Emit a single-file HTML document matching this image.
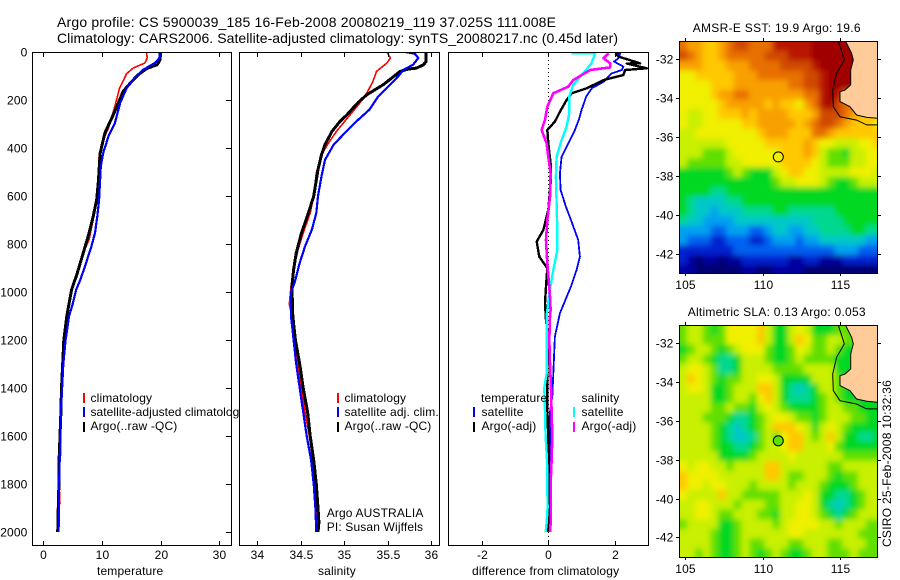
<!DOCTYPE html>
<html>
<head>
<meta charset="utf-8">
<title>Argo profile</title>
<style>
html,body{margin:0;padding:0;background:#fff;}
svg{display:block;}
text{font-family:"Liberation Sans",sans-serif;font-size:12px;fill:#000;letter-spacing:.15px;}
.t14{font-size:14px;letter-spacing:0;}
.frame{fill:none;stroke:#000;stroke-width:1;shape-rendering:crispEdges;}
.bar{stroke-width:2;shape-rendering:crispEdges;}
.line{fill:none;stroke-linejoin:round;shape-rendering:crispEdges;}
</style>
</head>
<body>
<svg id="chart" xmlns="http://www.w3.org/2000/svg" width="900" height="580" viewBox="0 0 900 580">
<defs>
<clipPath id="clip-p1"><rect x="32" y="52" width="200" height="494"/></clipPath>
<clipPath id="clip-p2"><rect x="240" y="52" width="200" height="494"/></clipPath>
<clipPath id="clip-p3"><rect x="448" y="52" width="201" height="494"/></clipPath>
<clipPath id="clip-m1"><rect x="679" y="41" width="199" height="232"/></clipPath>
<clipPath id="clip-m2"><rect x="679" y="325" width="199" height="232"/></clipPath>
<filter id="smooth" x="-5%" y="-5%" width="110%" height="110%"><feGaussianBlur stdDeviation="3"/></filter>
</defs>
<rect x="0" y="0" width="900" height="580" fill="#fff"/>
<text class="t14" x="57" y="27" textLength="499">Argo profile: CS 5900039_185 16-Feb-2008 20080219_119 37.025S 111.008E</text>
<text class="t14" x="57" y="43" textLength="561">Climatology: CARS2006. Satellite-adjusted climatology: synTS_20080217.nc (0.45d later)</text>

<g id="p1"></g>
<g>
<line class="bar" x1="84" x2="84" y1="393" y2="403" stroke="#f00"/>
<text x="90.5" y="402">climatology</text>
<line class="bar" x1="84" x2="84" y1="407" y2="417" stroke="#00f"/>
<text x="90.5" y="416" textLength="155">satellite-adjusted climatology</text>
<line class="bar" x1="84" x2="84" y1="422" y2="432" stroke="#000"/>
<text x="90.5" y="430">Argo(..raw -QC)</text>
</g>
<rect x="240" y="52" width="200" height="494" fill="#fff"/>
<g id="p2"></g>
<g>
<line class="bar" x1="338" x2="338" y1="393" y2="403" stroke="#f00"/>
<text x="344.5" y="402">climatology</text>
<line class="bar" x1="338" x2="338" y1="407" y2="417" stroke="#00f"/>
<text x="344.5" y="416">satellite adj. clim.</text>
<line class="bar" x1="338" x2="338" y1="422" y2="432" stroke="#000"/>
<text x="344.5" y="430">Argo(..raw -QC)</text>
<text x="326.7" y="517">Argo AUSTRALIA</text>
<text x="326.7" y="531">PI: Susan Wijffels</text>
</g>
<g id="p3"></g>
<g>
<text x="481" y="402">temperature</text>
<line class="bar" x1="474" x2="474" y1="407" y2="417" stroke="#00f"/>
<text x="481.5" y="416">satellite</text>
<line class="bar" x1="474" x2="474" y1="422" y2="432" stroke="#000"/>
<text x="481.5" y="430">Argo(-adj)</text>
<text x="581.5" y="402">salinity</text>
<line class="bar" x1="574" x2="574" y1="407" y2="417" stroke="#0ff"/>
<text x="581.5" y="416">satellite</text>
<line class="bar" x1="574" x2="574" y1="422" y2="432" stroke="#f0f"/>
<text x="581.5" y="430">Argo(-adj)</text>
</g>
<text x="97" y="575">temperature</text>
<text x="318" y="575">salinity</text>
<text x="472" y="575">difference from climatology</text>

<text x="692.7" y="32" textLength="168">AMSR-E SST: 19.9 Argo: 19.6</text>
<g id="m1"></g>
<text x="687.7" y="316" textLength="178">Altimetric SLA: 0.13 Argo: 0.053</text>
<g id="m2"></g>
<text transform="translate(891,547) rotate(-90)" textLength="167">CSIRO 25-Feb-2008 10:32:36</text>
</svg>

<script>
// ---- profile data ----
const depthTicks = [0,200,400,600,800,1000,1200,1400,1600,1800,2000];
const tempTicks = [0,10,20,30];
const salTicks = [34,34.5,35,35.5,36];
const salTickLabels = ['34','34.5','35','35.5','36'];
const diffTicks = [-2,0,2];
const lonTicks = [105,110,115];
const latTicks = [-32,-34,-36,-38,-40,-42];

const tempClimDepth = [0,25,46,67,90,150,226,317,365,435,532,615,698,782,838,921,1000,1100,1200,1300,1400,1600,1680,1700,1800,1880,1900,2000];
const tempClimValue = [17.6,17.7,17.3,15.3,14.2,13,12.2,11.1,10.2,9.5,9.3,9,8.5,7.8,6.8,5.8,4.8,4,3.6,3.3,3.1,2.9,3,2.55,2.7,2.85,2.4,2.4];
const tempSatDepth = [0,25,46,74,115,150,212,296,351,421,476,615,685,754,810,893,949,990,1050,1100,1200,1300,1400,1500,1600,1700,1800,1900,2000];
const tempSatValue = [19.9,19.8,19,17,15.3,14.2,13.1,12.2,11.1,10.2,9.8,9.5,9.2,8.8,8.2,7.1,6.3,5.6,5,4.4,3.8,3.4,3.2,3,2.9,2.8,2.7,2.65,2.6];
const tempArgoDepth = [0,32,53,69,94,122,164,212,268,337,421,532,615,685,754,838,921,992,1100,1200,1300,1400,1500,1600,1700,1800,1900,2000];
const tempArgoValue = [19.9,19.9,19.4,17.6,16.2,15.1,13.6,12.8,11.8,10.5,9.7,9.4,9.1,8.5,7.8,6.8,5.8,4.8,4,3.5,3.3,3.1,3,2.85,2.7,2.65,2.55,2.45];

const salClimDepth = [0,25,46,81,122,171,212,261,331,379,428,504,601,671,754,824,907,976,1050,1100,1200,1300,1400,1500,1600,1700,1800,1900,2000];
const salClimValue = [35.49,35.53,35.49,35.37,35.33,35.26,35.18,35.07,34.91,34.82,34.74,34.68,34.65,34.61,34.53,34.47,34.42,34.39,34.37,34.4,34.43,34.47,34.51,34.55,34.6,34.64,34.67,34.68,34.7];
const salSatDepth = [0,7,25,53,74,101,150,185,240,289,344,386,449,518,601,671,740,810,879,963,1000,1100,1200,1300,1400,1500,1600,1700,1800,1900,2000];
const salSatValue = [35.7,35.81,35.85,35.79,35.68,35.62,35.49,35.39,35.29,35.14,34.99,34.88,34.78,34.74,34.7,34.68,34.63,34.55,34.49,34.43,34.39,34.39,34.42,34.45,34.49,34.53,34.57,34.62,34.65,34.67,34.68];
const salArgoDepth = [0,39,53,67,71,81,104,136,178,210,262,290,331,386,428,490,601,671,754,838,907,976,1100,1200,1300,1400,1500,1600,1700,1800,1900,1960,2000];
const salArgoValue = [35.94,35.94,35.91,35.83,35.74,35.64,35.56,35.45,35.26,35.16,35.03,34.95,34.86,34.78,34.74,34.7,34.65,34.59,34.51,34.45,34.42,34.4,34.41,34.44,34.49,34.53,34.58,34.61,34.65,34.68,34.7,34.71,34.7];

const diffTempSatDepth = [6,6,26,40,61,75,89,124,151,186,242,278,325,381,436,506,575,644,707,783,853,908,978,1054,1089,1186,1340,1436,1500,1700,2000];
const diffTempSatValue = [2.01,2.16,2.11,1.98,2.26,2.21,1.91,1.66,1.31,1.14,1.0,0.93,0.8,0.6,0.4,0.35,0.37,0.53,0.7,0.9,0.95,0.85,0.68,0.45,0.35,0.2,0.15,0.12,0.05,0.05,0.06];
const diffTempArgoDepth = [6,19,47,48,68,75,96,117,151,172,200,249,290,325,381,464,547,658,742,790,853,901,978,1047,1117,1200,1340,1478,1617,1728,1964,2000];
const diffTempArgoValue = [2.01,2.11,2.76,2.36,2.96,2.31,2.26,1.66,1.16,0.7,0.55,0.35,0.2,-0.03,0,0.07,0.07,0,-0.15,-0.35,-0.27,-0.03,-0.07,-0.1,-0.07,0,-0.03,-0.03,0,0.02,0,0];
const diffSalSatDepth = [6,6,47,89,137,186,256,311,367,436,519,631,742,825,908,1006,1100,1200,1340,1400,1500,1600,1700,1800,1900,1964,2000];
const diffSalSatValue = [0.7,1.41,1.3,1.05,0.75,0.63,0.63,0.55,0.4,0.25,0.23,0.25,0.27,0.27,0.15,0.03,-0.05,-0.05,-0.05,-0.12,-0.1,-0.08,-0.04,-0.03,-0.02,-0.05,-0.08];
const diffSalArgoDepth = [6,26,47,64,75,117,144,172,228,283,325,381,436,506,603,700,783,881,1019,1075,1100,1200,1300,1400,1500,1600,1700,1800,1964,2000];
const diffSalArgoValue = [1.81,1.66,1.86,1.86,1.26,0.75,0.6,0.15,-0.03,-0.1,-0.2,-0.05,0,0.07,0.05,-0.03,-0.07,-0.03,0.05,0.07,0.05,0.03,0.05,0.08,0.1,0.12,0.1,0.07,0.07,0.05];

// ---- map data (colour level per 0.5 degree cell, north to south) ----
const sstLevels = [
[13,12,12,11,11,12,13,14,14,13,13,13,15,15,15,15,15,16,16,16,16,16,16,16,16,16],
[14,13,12,11,11,12,13,13,13,13,13,14,14,14,15,15,15,16,16,16,16,16,16,16,16,16],
[12,12,12,11,11,11,12,12,12,13,13,13,13,14,14,14,14,15,16,16,16,16,16,16,16,16],
[10,10,11,11,11,11,11,12,12,12,13,13,13,13,13,13,14,14,15,16,16,16,16,16,16,16],
[10,10,10,10,11,11,11,12,12,12,12,12,12,12,13,13,14,14,15,16,16,16,16,16,16,16],
[10,10,10,10,11,12,12,13,13,12,12,12,12,12,12,12,13,13,15,16,15,13,13,13,13,13],
[10,10,10,10,10,11,12,12,12,12,12,11,12,11,11,10,12,13,15,16,14,13,13,13,13,13],
[10,9,9,10,10,11,11,11,12,11,12,12,12,12,11,11,11,12,14,14,14,13,12,11,11,11],
[10,9,9,10,10,10,10,10,11,11,12,12,12,12,12,11,12,13,14,14,13,12,11,11,11,10],
[9,9,10,10,10,10,10,10,10,10,11,12,12,12,11,11,11,13,13,12,11,11,11,11,11,11],
[9,9,9,9,9,9,10,10,10,10,10,11,11,11,11,11,12,11,10,10,9,9,9,10,10,11],
[9,9,9,8,8,8,9,10,10,10,10,10,10,11,11,11,12,11,9,8,8,7,9,9,10,10],
[9,8,8,8,8,8,9,9,10,10,10,10,10,11,11,11,11,10,9,8,8,8,9,9,10,10],
[7,7,7,7,7,7,8,9,8,7,7,7,9,10,11,11,10,10,9,9,9,9,10,10,10,9],
[7,7,7,7,7,7,7,7,7,7,7,7,8,9,9,10,10,10,9,8,7,7,8,9,9,9],
[7,7,7,7,6,6,7,7,7,7,7,7,7,7,7,7,7,7,7,7,7,7,7,7,7,7],
[7,6,5,5,5,5,6,6,7,7,7,7,7,7,7,7,7,7,7,7,7,7,7,7,7,7],
[7,6,5,5,4,5,5,5,6,6,6,6,7,7,6,6,6,6,6,6,7,7,7,7,7,7],
[6,5,5,4,4,4,4,5,5,5,5,5,5,5,5,5,5,6,6,6,6,7,7,7,7,7],
[4,4,4,4,3,3,4,4,4,3,3,4,5,5,4,4,5,5,6,6,6,6,7,7,6,6],
[4,3,3,3,2,2,3,3,3,2,2,3,4,4,4,3,4,4,5,5,5,5,5,5,4,4],
[2,2,2,2,2,2,2,3,3,3,3,3,3,3,3,3,3,3,3,3,4,4,4,3,3,3],
[2,1,0,1,1,0,1,1,2,2,2,2,2,2,1,1,2,2,1,1,1,2,2,2,2,2],
[1,1,0,0,0,0,0,0,1,1,0,0,1,1,1,1,0,0,0,0,0,0,0,0,0,0]
];
const slaLevels = [
[8,9,9,8,7,8,10,10,10,10,11,9,7,7,9,10,9,7,7,7,8,8,8,8,8,8],
[8,9,9,8,8,8,10,10,10,10,11,9,7,7,9,11,10,8,8,9,9,8,8,8,8,8],
[7,8,9,9,8,7,8,9,10,10,10,8,7,7,8,10,9,8,8,9,8,7,7,7,7,7],
[8,9,9,8,7,6,6,7,9,9,9,8,7,7,8,9,8,8,8,8,7,7,7,7,7,7],
[9,10,10,9,8,6,6,7,9,9,9,9,8,8,8,8,9,9,9,9,7,7,7,7,7,7],
[9,11,10,9,8,7,8,8,9,9,10,10,9,7,7,7,7,9,9,9,8,7,7,7,7,7],
[9,10,10,9,7,7,8,9,9,9,11,11,9,7,6,5,6,7,9,9,8,7,7,7,7,7],
[9,9,9,9,7,7,8,9,9,8,10,11,9,7,6,6,6,7,8,9,8,7,7,7,7,7],
[9,9,9,9,8,8,9,8,8,7,9,10,9,8,7,7,7,7,8,9,9,8,8,7,7,7],
[9,9,9,8,8,8,7,6,6,7,8,9,10,10,9,8,8,7,8,9,9,9,8,8,7,7],
[9,9,9,9,8,7,6,5,6,7,8,9,11,11,11,10,9,7,9,10,9,8,7,7,7,7],
[9,9,9,9,8,7,6,5,5,6,8,9,8,10,11,11,9,8,9,11,9,7,7,6,6,7],
[9,9,9,9,8,7,7,6,6,7,8,9,9,10,11,11,9,9,9,10,8,7,7,7,7,7],
[9,9,9,9,9,7,7,7,7,8,9,9,9,9,10,9,9,9,9,9,9,8,8,8,8,8],
[10,9,10,10,9,9,8,9,9,9,9,11,11,9,9,9,9,9,9,8,8,9,9,9,9,9],
[11,10,10,10,10,9,9,9,9,9,9,11,11,9,8,8,9,9,9,8,7,8,8,9,9,9],
[11,10,10,9,10,10,9,9,9,8,9,9,9,9,8,9,9,9,8,7,7,7,8,9,9,9],
[10,9,9,9,9,11,9,9,8,8,8,8,8,9,9,9,10,9,7,7,6,6,7,8,9,9],
[9,9,10,10,9,9,9,8,9,9,9,8,8,9,9,10,10,9,7,6,5,6,7,8,9,9],
[9,9,10,10,9,8,8,9,9,9,8,8,7,9,9,10,10,9,8,7,6,7,8,9,9,9],
[8,9,9,9,9,7,7,8,9,9,9,9,8,9,10,10,10,10,9,9,8,9,9,9,8,8],
[9,9,9,9,8,7,7,8,9,9,9,9,9,9,10,10,9,9,9,9,9,9,9,8,8,8],
[9,9,9,9,8,7,7,8,9,8,8,9,9,9,8,8,9,9,9,8,8,9,9,9,8,8],
[9,9,8,9,8,7,7,8,9,8,7,8,9,8,7,7,8,9,9,8,8,8,9,8,8,8]
];
const palette = ['#000070','#0000a0','#0020d0','#0060f0','#00a0f0','#00c8c8','#00d890','#00d820','#60e000','#c8f000','#f0f000','#ffc800','#f8a000','#e87000','#d04800','#b81800','#a00000'];
const coastLon = [115.34,115.73,115.84,115.67,115.67,115.30,114.98,114.98,115.62,116.05,116.70,117.38];
const coastLat = [-31.07,-31.69,-32.03,-32.55,-33.32,-33.58,-33.67,-34.18,-34.44,-34.87,-34.99,-35.04];
const isobathLon = [114.87,115.09,115.26,114.76,114.51,114.55,114.98,116.05,116.70,117.38];
const isobathLat = [-31.07,-31.6,-32.03,-32.72,-33.58,-34.44,-34.96,-35.13,-35.38,-35.38];
const floatLon = 111.008;
const floatLat = -37.025;
const sstFloatLevel = 9.5;
const slaFloatLevel = 8;

// ---- axis functions ----
const NS = 'http://www.w3.org/2000/svg';
const yDepth = d => 52 + 0.24 * d;
const xTemp = v => 43.3 + 5.87 * v;
const xSal = v => 257 + 87.2 * (v - 34);
const xDiff = v => 548.3 + 33.25 * v;
const GRID_LON0 = 104.63, GRID_LAT0 = -31.07, GRID_STEP = 0.5;
const xLon = lon => 685 + 15.53 * (lon - 105);
const yLat1 = lat => 59.3 + 19.42 * (-32 - lat);
const yLat2 = lat => 343.3 + 19.4 * (-32 - lat);

function make(tag, parent, attrs, txt) {
  const el = document.createElementNS(NS, tag);
  for (const k in attrs) el.setAttribute(k, attrs[k]);
  if (txt !== undefined) el.textContent = txt;
  parent.appendChild(el);
  return el;
}
function crisp(v) { return Math.round(v) + 0.5; }

function drawLine(parent, clip, xf, vals, depths, color, width, name) {
  const pts = vals.map((v, i) => xf(v).toFixed(1) + ',' + yDepth(depths[i]).toFixed(1)).join(' ');
  const el = make('polyline', parent, {'class':'line', points:pts, stroke:color, 'stroke-width':width, 'clip-path':'url(#' + clip + ')'});
  
  
}

function drawTick(parent, x1, y1, x2, y2) {
  const el = make('line', parent, {x1:x1, y1:y1, x2:x2, y2:y2, stroke:'#000', 'stroke-width':1, 'shape-rendering':'crispEdges'});
  
  
}

function drawLabel(parent, x, y, anchor, s) {
  const el = make('text', parent, {x:x, y:y, 'text-anchor':anchor}, s);
  
  
}

function drawFrame(parent, x, y, w, h) {
  const el = make('rect', parent, {'class':'frame', x:x, y:y, width:w, height:h});
  
  
}

// ---- panel 1: temperature ----
const p1 = document.getElementById('p1');
drawLine(p1, 'clip-p1', xTemp, tempClimValue, tempClimDepth, '#f00', 1.6, 'temperature-climatology-line');
drawLine(p1, 'clip-p1', xTemp, tempArgoValue, tempArgoDepth, '#000', 3, 'temperature-argo-line');
drawLine(p1, 'clip-p1', xTemp, tempSatValue, tempSatDepth, '#00f', 2.2, 'temperature-satellite-line');
depthTicks.forEach(d => {
  const y = crisp(yDepth(d));
  drawLabel(p1, 27.5, y + 4, 'end', String(d));
  if (d > 0) drawTick(p1, 226, y, 231, y);
});
tempTicks.forEach(t => {
  const x = crisp(xTemp(t));
  drawTick(p1, x, 52, x, 57);
  drawTick(p1, x, 541, x, 546);
  drawLabel(p1, x, 559, 'middle', String(t));
});
drawFrame(p1, 32.5, 52.5, 199, 493);

// ---- panel 2: salinity ----
const p2 = document.getElementById('p2');
drawLine(p2, 'clip-p2', xSal, salClimValue, salClimDepth, '#f00', 1.6, 'salinity-climatology-line');
drawLine(p2, 'clip-p2', xSal, salArgoValue, salArgoDepth, '#000', 3, 'salinity-argo-line');
drawLine(p2, 'clip-p2', xSal, salSatValue, salSatDepth, '#00f', 2.2, 'salinity-satellite-line');
salTicks.forEach((t, i) => {
  const x = crisp(xSal(t));
  drawTick(p2, x, 52, x, 57);
  drawTick(p2, x, 541, x, 546);
  drawLabel(p2, x, 559, 'middle', salTickLabels[i]);
});
drawFrame(p2, 239.5, 52.5, 200, 493);

// ---- panel 3: differences ----
const p3 = document.getElementById('p3');
const zeroLine = make('line', p3, {x1:crisp(xDiff(0)), x2:crisp(xDiff(0)), y1:52, y2:546, stroke:'#000', 'stroke-width':1, 'stroke-dasharray':'1 3', 'shape-rendering':'crispEdges'});


drawLine(p3, 'clip-p3', xDiff, diffTempSatValue, diffTempSatDepth, '#00f', 1.8, 'difference-temperature-satellite-line');
drawLine(p3, 'clip-p3', xDiff, diffTempArgoValue, diffTempArgoDepth, '#000', 2.4, 'difference-temperature-argo-line');
drawLine(p3, 'clip-p3', xDiff, diffSalSatValue, diffSalSatDepth, '#0ff', 2.4, 'difference-salinity-satellite-line');
drawLine(p3, 'clip-p3', xDiff, diffSalArgoValue, diffSalArgoDepth, '#f0f', 2.6, 'difference-salinity-argo-line');
diffTicks.forEach(t => {
  const x = crisp(xDiff(t));
  drawTick(p3, x, 52, x, 57);
  drawTick(p3, x, 541, x, 546);
  drawLabel(p3, x, 559, 'middle', String(t));
});
drawFrame(p3, 448.5, 52.5, 200, 493);

// ---- maps ----
function drawMap(parent, clip, levels, yLat, floatLevel, top, cellName) {
  const plot = make('g', parent, {'clip-path':'url(#' + clip + ')'});
  
  
  const heat = make('g', plot, {filter:'url(#smooth)'});
  
  
  const nR = levels.length;
  levels.forEach((row, r) => {
    const latN = GRID_LAT0 - r * GRID_STEP;
    const y0 = yLat(latN) - (r === 0 ? 14 : 0);
    const y1 = yLat(latN - GRID_STEP) + (r === nR - 1 ? 14 : 0);
    const nC = row.length;
    row.forEach((lev, c) => {
      const lonW = GRID_LON0 + c * GRID_STEP;
      const x0 = xLon(lonW) - (c === 0 ? 14 : 0);
      const x1 = xLon(lonW + GRID_STEP) + (c === nC - 1 ? 14 : 0);
      const cell = make('rect', heat, {x:x0.toFixed(1), y:y0.toFixed(1), width:(x1 - x0 + 0.6).toFixed(1), height:(y1 - y0 + 0.6).toFixed(1), fill:palette[lev], 'shape-rendering':'crispEdges'});
      
      
    });
  });
  const landPts = coastLon.map((lon, i) => xLon(lon).toFixed(1) + ',' + yLat(coastLat[i]).toFixed(1));
  landPts.push(xLon(117.38).toFixed(1) + ',' + yLat(GRID_LAT0).toFixed(1));
  const land = make('polygon', plot, {points:landPts.join(' '), fill:'#ffcc99', stroke:'none'});
  
  
  const coastPts = coastLon.map((lon, i) => xLon(lon).toFixed(1) + ',' + yLat(coastLat[i]).toFixed(1)).join(' ');
  const coast = make('polyline', plot, {points:coastPts, fill:'none', stroke:'#000', 'stroke-width':1});
  
  
  const isoPts = isobathLon.map((lon, i) => xLon(lon).toFixed(1) + ',' + yLat(isobathLat[i]).toFixed(1)).join(' ');
  const iso = make('polyline', plot, {points:isoPts, fill:'none', stroke:'#000', 'stroke-width':1});
  
  
  const marker = make('circle', plot, {cx:xLon(floatLon).toFixed(1), cy:yLat(floatLat).toFixed(1), r:5, fill:palette[Math.round(floatLevel)], stroke:'#000', 'stroke-width':1});
  
  
  const bottom = top + 232;
  lonTicks.forEach(lon => {
    const x = crisp(xLon(lon));
    drawTick(parent, x, top - 3, x, top);
    drawTick(parent, x, bottom, x, bottom + 3);
    drawLabel(parent, x, bottom + 16, 'middle', String(lon));
  });
  latTicks.forEach(lat => {
    const y = crisp(yLat(lat));
    drawTick(parent, 676, y, 679, y);
    drawTick(parent, 878, y, 881, y);
    drawLabel(parent, 673.5, y + 4, 'end', String(lat));
  });
  drawFrame(parent, 679.5, top + 0.5, 198, 232);
}
drawMap(document.getElementById('m1'), 'clip-m1', sstLevels, yLat1, sstFloatLevel, 41, 'sst-cell');
drawMap(document.getElementById('m2'), 'clip-m2', slaLevels, yLat2, slaFloatLevel, 325, 'sla-cell');
</script>
</body>
</html>
